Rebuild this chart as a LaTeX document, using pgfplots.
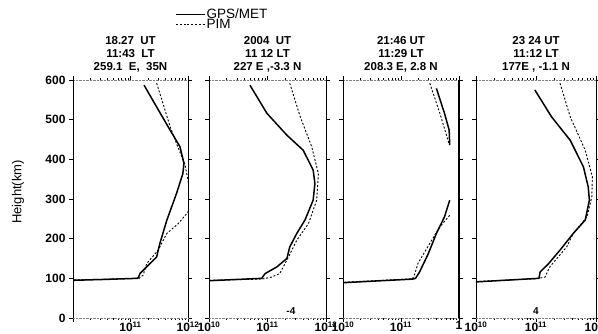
\documentclass[border=0pt]{standalone}
\usepackage{pgfplots}
\pgfplotsset{compat=1.18}
\usepackage{fontspec}
\setmainfont{Liberation Sans}
\newcommand{\ee}[1]{10\textsuperscript{#1}}
\pgfplotsset{
  legend image code/.code={\draw[#1] (0pt,0pt) -- (29pt,0pt);},
  scale only axis, height=238pt,
  ytick={0,100,...,600},
  tick align=outside,
  major tick length=4pt, minor tick length=2pt,
  separate axis lines,
  axis x line=box, axis y line=box,
  x axis line style={densely dotted, gray},
  y axis line style={black, line width=1pt},
  tick style={black, thin},
  xticklabel style={font=\bfseries\fontsize{12}{12}\selectfont, yshift=4pt},
  yticklabel style={font=\bfseries\fontsize{12}{12}\selectfont},
  title style={font=\bfseries\fontsize{11.5}{13}\selectfont, align=center, inner sep=2pt},
  unbounded coords=jump,
}
\begin{document}
\begin{tikzpicture}[x=1pt,y=1pt]
% Panel 1
\begin{semilogxaxis}[anchor=south west, at={(73pt,16pt)}, width=115pt,
  xmin=1e10, xmax=1e12, ymin=0, ymax=600, xtick={1e10,1e11,1e12},
  yticklabels={0,100,200,300,400,500,600},
  xticklabels={,\ee{11},\ee{12}},
  ylabel={Height(km)},
  ylabel style={font=\fontsize{13}{13}\selectfont, at={(axis description cs:-0.478,0.53)}, anchor=center},
  title={18.27\ \ UT\\11:43\ \ LT\\259.1\ \ E,\ \ 35N},
  legend style={at={(axis description cs:0.887,1.305)}, anchor=north west, draw=none, fill=none,
    font=\fontsize{13.5}{14}\selectfont, inner sep=0pt, row sep=-2.5pt, nodes={inner sep=1pt}},
  legend cell align=left,
]
\addplot[black, line width=1.5pt] coordinates {
(1.72e11,587) (4.86e11,474) (7.24e11,432) (8.51e11,390) (8.13e11,364) (6.31e11,314)
(4.27e11,246) (3.24e11,188) (2.85e11,154) (2.04e11,133) (1.46e11,112) (1.38e11,103)
(1.32e11,100) (3.16e10,97) (1e10,95)};
\addlegendentry{GPS/MET}
\addplot[black, line width=0.9pt, dash pattern=on 2pt off 1.8pt] coordinates {
(2.85e11,592) (4.90e11,482) (6.31e11,440) (8.91e11,385) (1.02e12,340) (1.07e12,300)
(1.0e12,267) (6.76e11,238) (4.27e11,213) (3.02e11,171) (1.91e11,137) (1.66e11,108)
(1.41e11,100) (1e10,96)};
\addlegendentry{PIM}
\end{semilogxaxis}
% Panel 2
\begin{semilogxaxis}[anchor=south west, at={(209pt,16pt)}, width=117pt, yticklabels={},
  xmin=1e10, xmax=1e12, ymin=0, ymax=600, xtick={1e10,1e11,1e12},
  xticklabels={\ee{10},\ee{11},\ee{12}},
  title={2004\ \ UT\\11 12 LT\\227\ E\ ,-3.3\ N},
]
\addplot[black, line width=1.5pt] coordinates {
(5.01e10,587) (9.77e10,516) (2.14e11,461) (4.07e11,423) (6.03e11,373) (6.46e11,339)
(6.03e11,297) (4.37e11,247) (3.16e11,213) (2.40e11,179) (2.14e11,150) (1.45e11,129)
(9.12e10,112) (7.94e10,100) (1e10,94)};
\addplot[black, line width=0.9pt, dash pattern=on 2pt off 1.8pt] coordinates {
(2.40e11,592) (3.63e11,507) (5.69e11,432) (7.41e11,364) (6.92e11,297) (5.01e11,238)
(3.16e11,196) (2.29e11,154) (1.62e11,112) (1.17e11,103) (7.94e10,98) (1e10,95)};
\node[font=\bfseries\fontsize{10}{10}\selectfont, anchor=south] at (rel axis cs:0.70,0.0) {-4};
\end{semilogxaxis}
% Panel 3
\begin{semilogxaxis}[anchor=south west, at={(343pt,16pt)}, width=116pt, yticklabels={}, clip=false,
  xmin=1e10, xmax=1e12, ymin=0, ymax=600, xtick={1e10,1e11,1e12},
  xticklabels={\ee{10},\ee{11},1},
  title={21:46 UT\\11:29 LT\\208.3 E, 2.8 N},
]
\addplot[black, line width=1.5pt] coordinates {
(4.07e11,579) (5.62e11,516) (6.76e11,474) (6.92e11,436) (nan,nan)
(6.92e11,297) (5.62e11,255) (4.07e11,213) (2.95e11,162) (2.09e11,116) (1.78e11,100)
(1.58e11,98) (1e10,89)};
\addplot[black, line width=0.9pt, dash pattern=on 2pt off 1.8pt] coordinates {
(3.13e11,592) (4.68e11,516) (6.46e11,448) (6.92e11,436) (nan,nan)
(6.92e11,259) (4.68e11,230) (3.13e11,188) (1.95e11,137) (1.74e11,112) (1.58e11,99)
(1e10,90)};
\draw[line width=2.2pt] (rel axis cs:1,0) -- (rel axis cs:1,1);
\end{semilogxaxis}
% Panel 4
\begin{semilogxaxis}[anchor=south west, at={(476pt,16pt)}, width=120pt, yticklabels={},
  xmin=1e10, xmax=1e12, ymin=0, ymax=600, xtick={1e10,1e11,1e12},
  xticklabels={\ee{10},\ee{11},\ee{12}},
  title={23 24 UT\\11:12 LT\\177E , -1.1 N},
]
\addplot[black, line width=1.5pt] coordinates {
(9.55e10,575) (1.82e11,507) (3.72e11,448) (6.17e11,381) (7.41e11,331) (7.76e11,297)
(6.61e11,247) (4.17e11,213) (2.51e11,171) (1.62e11,137) (1.17e11,116) (1.12e11,100)
(1e10,91)};
\addplot[black, line width=0.9pt, dash pattern=on 2pt off 1.8pt] coordinates {
(2.51e11,592) (3.72e11,507) (6.61e11,423) (8.71e11,356) (8.51e11,305) (7.08e11,255)
(4.17e11,213) (3.24e11,179) (1.70e11,129) (1.41e11,103) (1e11,99) (1e10,92)};
\node[font=\bfseries\fontsize{10}{10}\selectfont, anchor=south] at (rel axis cs:0.50,0.0) {4};
\end{semilogxaxis}
\pgfresetboundingbox
\useasboundingbox (0,0) rectangle (598,334);
\end{tikzpicture}
\end{document}
